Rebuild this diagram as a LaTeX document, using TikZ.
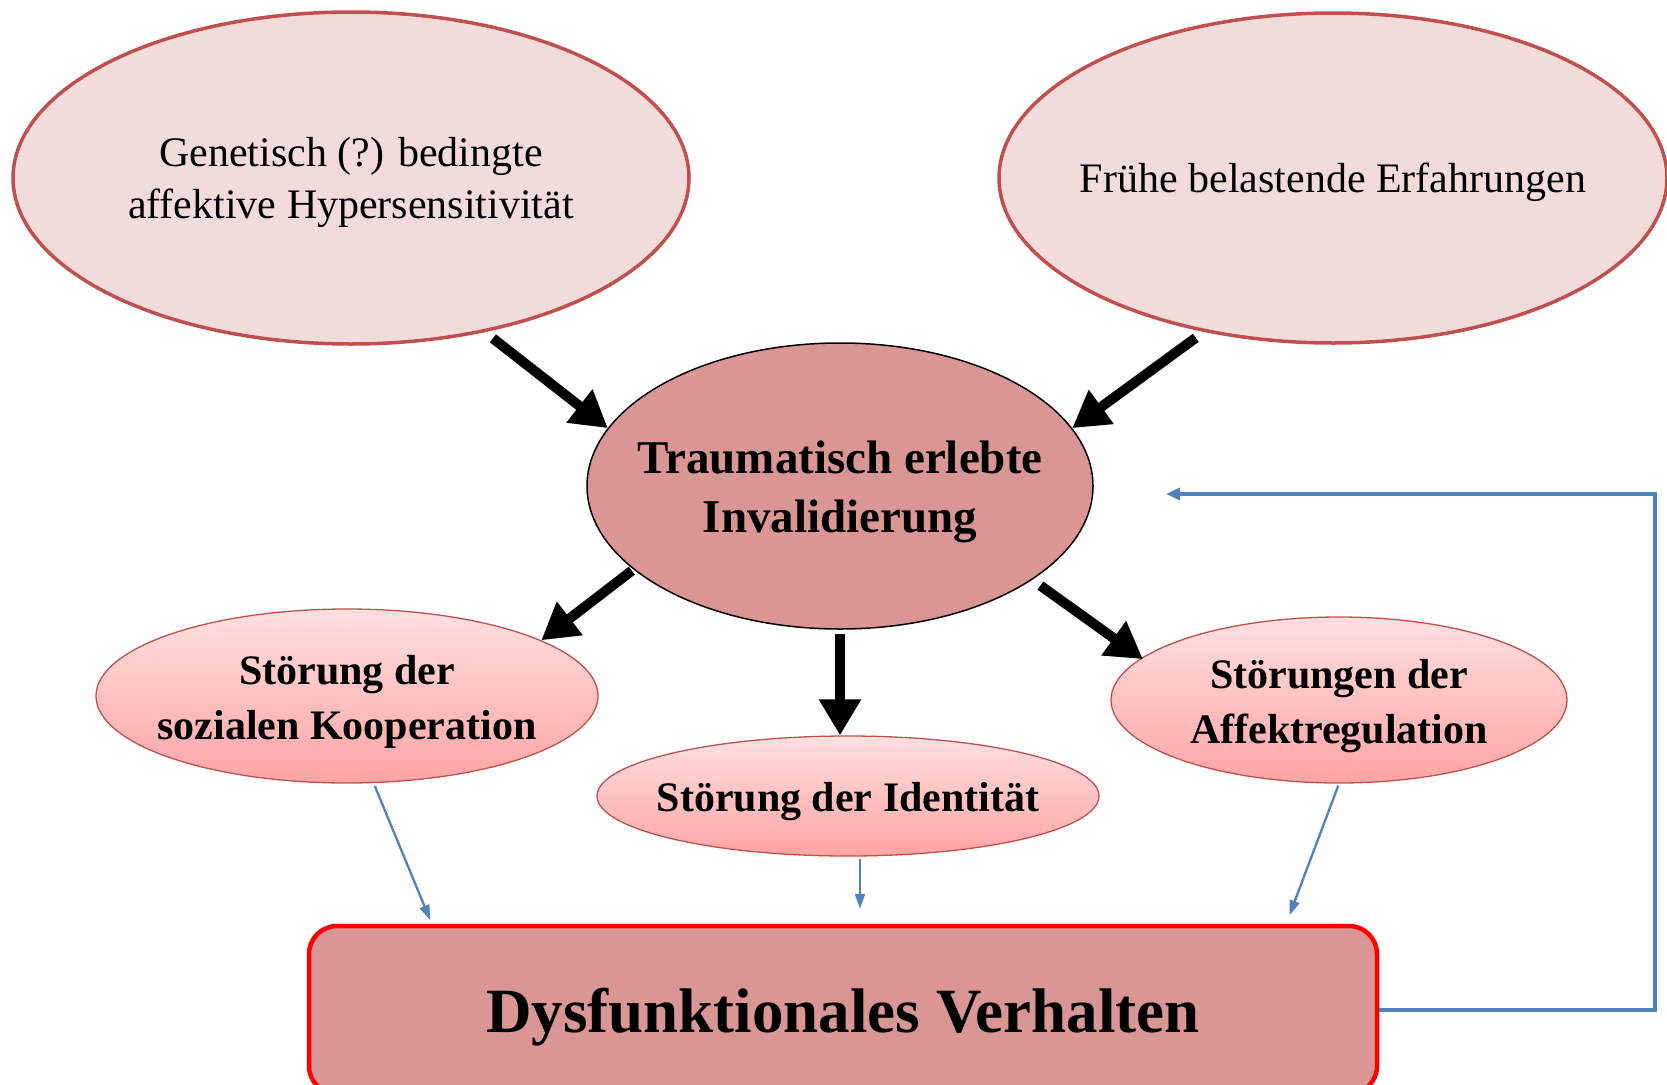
\documentclass[tikz,border=0pt]{standalone}
\usepackage{fontspec}
\setmainfont{Liberation Serif}
\usetikzlibrary{arrows.meta,shapes.geometric}

\definecolor{rosefill}{HTML}{F2DCDB}
\definecolor{roseline}{HTML}{C0504D}
\definecolor{coreFill}{HTML}{D99694}
\definecolor{pinkTop}{HTML}{FFE0E0}
\definecolor{pinkBot}{HTML}{FFA4A4}
\definecolor{boxline}{HTML}{FF0000}
\definecolor{linkblue}{HTML}{4F81BD}

\tikzset{
  source/.style={ellipse, draw=roseline, line width=3.5pt, fill=rosefill, inner sep=0pt},
  core/.style={ellipse, draw=black, line width=1.5pt, fill=coreFill, inner sep=0pt},
  effect/.style={ellipse, draw=roseline, line width=1.3pt, top color=pinkTop, bottom color=pinkBot, inner sep=0pt},
  plain/.style={font=\fontsize{42}{52}\selectfont, align=center, yshift=-4pt},
  heavy/.style={font=\bfseries\fontsize{47}{59}\selectfont, align=center, yshift=-6pt},
  medium/.style={font=\bfseries\fontsize{42}{55}\selectfont, align=center, yshift=-6pt},
  bigarrow/.style={line width=10pt, -{Triangle[length=36pt,width=40pt]}},
  thinarrow/.style={draw=linkblue, line width=2.3pt, -{Triangle[length=15pt,width=10pt]}, linkblue},
}

\begin{document}
\begin{tikzpicture}[x=1pt, y=-1pt]
\useasboundingbox (0,0) rectangle (1667,1084);

% causes
\node[source, minimum width=676pt, minimum height=332pt,
      label={[plain]center:{Genetisch (?) bedingte\\affektive Hypersensitivität}}] (gen) at (351,178) {};
\node[source, minimum width=668pt, minimum height=330pt,
      label={[plain]center:{Frühe belastende Erfahrungen}}] (early) at (1333,178) {};

% central experience
\node[core, minimum width=506pt, minimum height=286pt,
      label={[heavy]center:{Traumatisch erlebte\\Invalidierung}}] (trauma) at (840,486) {};

% consequences
\node[effect, minimum width=502pt, minimum height=174pt,
      label={[medium]center:{Störung der\\sozialen Kooperation}}] (social) at (347,696) {};
\node[effect, minimum width=502pt, minimum height=120pt,
      label={[medium]center:{Störung der Identität}}] (ident) at (848,796) {};
\node[effect, minimum width=456pt, minimum height=166pt,
      label={[medium]center:{Störungen der\\Affektregulation}}] (affect) at (1339,700) {};

% resulting behaviour
\node[draw=boxline, line width=4.5pt, fill=coreFill, rounded corners=28pt,
      minimum width=1068pt, minimum height=168pt, text depth=0pt,
      font=\bfseries\fontsize{63}{70}\selectfont] (behav) at (843,1010) {Dysfunktionales Verhalten};

% causes -> central experience
\draw[bigarrow, shorten <=10pt] (gen.-49) -- (trauma.166);
\draw[bigarrow, shorten <=10pt] (early.230) -- (trauma.14);

% central experience -> consequences
\draw[bigarrow, shorten <=2pt] (trauma.202) -- (social.16);
\draw[bigarrow, shorten <=4pt] (trauma.south) -- (trauma.south |- ident.north);
\draw[bigarrow, shorten <=10pt, shorten >=-2pt] (trauma.-26) -- (affect.168);

% consequences -> behaviour
\draw[thinarrow, shorten <=3pt, shorten >=4pt] (social.-73.5) -- ([xshift=125pt]behav.north west);
\draw[thinarrow, shorten <=2pt, shorten >=15pt] ([xshift=12pt]ident.south) -- ([xshift=17pt]behav.north);
\draw[thinarrow, shorten <=2pt, shorten >=9pt] (affect.south) -- ([xshift=-93pt]behav.north east);

% feedback loop
\coordinate (loopcorner) at (1655,494);
\coordinate (loopend) at (1166,494);
\draw[draw=linkblue, line width=3.8pt, -{Triangle[length=14pt,width=12pt]}, linkblue]
  (behav.east) -| (loopcorner) -- (loopend);
\end{tikzpicture}
\end{document}
